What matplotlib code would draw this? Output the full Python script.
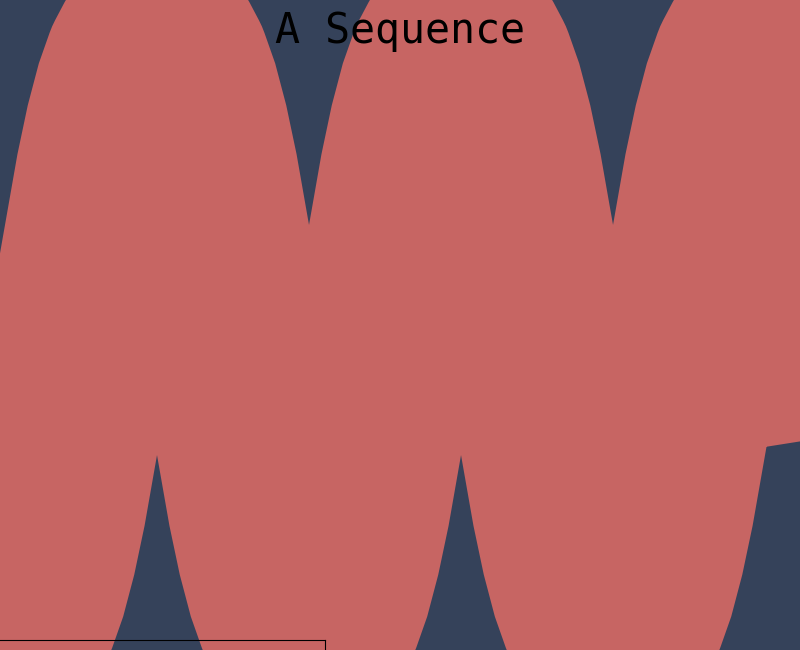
import numpy as np
import matplotlib
matplotlib.use("Agg")
import matplotlib.pyplot as plt

steps = list(range(89))
values = [-1.0, -0.98, -0.92, -0.83, -0.71, -0.56, -0.38, -0.2,
          0.0, 0.2, 0.38, 0.56, 0.71, 0.83, 0.92, 0.98, 1.0, 0.98, 0.92, 0.83, 0.71, 0.56, 0.38, 0.2,
          0.0, -0.2, -0.38, -0.56, -0.71, -0.83, -0.92, -0.98, -1.0, -0.98, -0.92, -0.83, -0.71, -0.56, -0.38, -0.2,
          0.0, 0.2, 0.38, 0.56, 0.71, 0.83, 0.92, 0.98, 1.0, 0.98, 0.92, 0.83, 0.71, 0.56, 0.38, 0.2,
          0.0, -0.2, -0.38, -0.56, -0.71, -0.83, -0.92, -0.98, -1.0, -0.98, -0.92, -0.83, -0.71, -0.56, -0.38, -0.2,
          0.0, 0.2, 0.38, 0.56, 0.71, 0.83, 0.92, 0.98, 1.0, 0.98, 0.92, 0.83, 0.71, 0.56, 0.38, 0.2,
          0.0]
title = "A Sequence"

bg_color = '#35425a'
line_color = '#c76563'

# draw on a padded canvas so agg does not cut the fat stroke at the edges,
# then crop back to 800x650
W, H, pad = 800, 650, 100
FW, FH = W + 2 * pad, H + 2 * pad
fig = plt.figure(figsize=(FW / 100, FH / 100), dpi=100, facecolor=bg_color)

ax = fig.add_axes([pad / FW, pad / FH, W / FW, H / FH])
ax.plot(steps, values, color=line_color, linewidth=135,
        solid_capstyle='projecting', solid_joinstyle='round')
ax.set_xlim(-0.526, 83.68)
ax.set_ylim(-1.0333, 1.1333)
ax.axis('off')
ax.patch.set_visible(False)

# empty frame poking in at the lower left
frame = fig.add_axes([50 / FW, 60 / FH, 375 / FW, 50 / FH], facecolor='none')
frame.set_xticks([])
frame.set_yticks([])
for sp in frame.spines.values():
    sp.set_linewidth(0.8)
    sp.set_color('black')

fig.text(0.5, (FH - pad - 43) / FH, title, ha='center', va='baseline',
         fontsize=30, fontfamily='DejaVu Sans Mono', color='black')

fig.canvas.draw()
img = np.asarray(fig.canvas.buffer_rgba())
plt.imsave('out.png', img[pad:pad + H, pad:pad + W])
